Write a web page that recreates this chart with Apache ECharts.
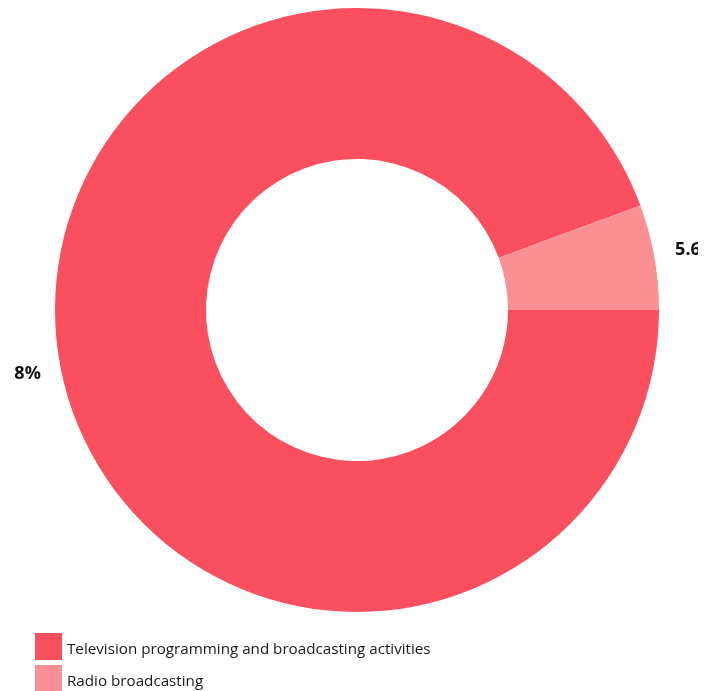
<!DOCTYPE html>
<html><head><meta charset="utf-8">
<script src="https://cdn.jsdelivr.net/npm/echarts@6/dist/echarts.min.js"></script>
<style>html,body{margin:0;padding:0;background:#fff;overflow:hidden}#c{position:absolute;left:14px;top:0;width:684px;height:691px}</style>
</head><body><div id="c"></div>
<script>
const categories = ["Television programming and broadcasting activities", "Radio broadcasting"];
const values = [94.38, 5.62];
const colors = ["#F94F5E", "#FA9094"];

const chart = echarts.init(document.getElementById('c'));
chart.setOption({
  animation: false,
  color: colors,
  legend: {
    orient: 'vertical', left: 16, top: 628, height: 120,
    itemWidth: 27, itemHeight: 27, itemGap: 5,
    icon: 'rect',
    formatter: name => '{t|' + name + '}',
    textStyle: {
      fontFamily: 'Open Sans', fontSize: 15.2, color: '#1a1a1a',
      rich: { t: { fontFamily: 'Open Sans', fontSize: 15.2, color: '#1a1a1a', padding: [6, 0, 0, 0] } }
    },
    data: categories
  },
  series: [{
    type: 'pie',
    center: [343, 310],
    radius: [151, 302],
    startAngle: 0,
    clockwise: true,
    avoidLabelOverlap: false,
    label: {
      show: true, position: 'outside',
      formatter: p => p.value.toFixed(2) + '%',
      fontFamily: 'Open Sans', fontWeight: 'bold', fontSize: 18, color: '#111'
    },
    labelLine: { show: false, length: 12, length2: 4 },
    labelLayout: p => (p.dataIndex === 0 ? { dx: 2, dy: 9 } : { dy: -5 }),
    itemStyle: { borderWidth: 0 },
    emphasis: { disabled: true },
    data: categories.map((c, i) => ({ name: c, value: values[i] }))
  }]
});
</script></body></html>
